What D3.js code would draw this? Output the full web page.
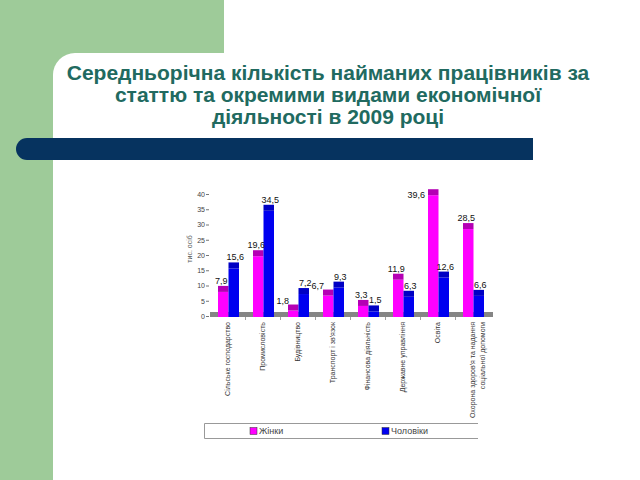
<!DOCTYPE html>
<html>
<head>
<meta charset="utf-8">
<script src="https://cdn.jsdelivr.net/npm/d3@7"></script>
<style>
  body { margin: 0; background: #fff; }
  svg { display: block; font-family: "Liberation Sans", Arial, sans-serif; }
</style>
</head>
<body>
<div class="slide"></div>
<script>
var categories = [
  ["Сільське господарство"],
  ["Промисловість"],
  ["Будівництво"],
  ["Транспорт і зв'язок"],
  ["Фінансова діяльність"],
  ["Державне управління"],
  ["Освіта"],
  ["Охорона здоров'я та надання", "соціальної допомоги"]
];
var series = ["Жінки", "Чоловіки"];
var women = [7.9, 19.6, 1.8, 6.7, 3.3, 11.9, 39.6, 28.5];
var men = [15.6, 34.5, 7.2, 9.3, 1.5, 6.3, 12.6, 6.6];
var yTicks = [0, 5, 10, 15, 20, 25, 30, 35, 40];

var faceColor = { "Жінки": "#ff00ff", "Чоловіки": "#0000f0" };
var capColor = { "Жінки": "#b400b4", "Чоловіки": "#0000c4" };

var W = 640, H = 480;
var svg = d3.select('.slide').append('svg').attr('width', W).attr('height', H);

// ========= slide background ============
svg.append('rect').attr('width', W).attr('height', H).attr('fill', '#fff');
svg.append('rect').attr('width', 224).attr('height', H).attr('fill', '#9ecb99');
svg.append('rect').attr('x', 53).attr('y', 53).attr('width', 700).attr('height', 600)
  .attr('rx', 22).attr('fill', '#fff');

// dark band under the title (rounded on the left end)
svg.append('path')
  .attr('d', 'M27,138 H533 V160 H27 A11,11 0 0 1 27,138 Z')
  .attr('fill', '#06335f');

var title = ["Середньорічна кількість найманих працівників за",
  "статтю та окремими видами економічної",
  "діяльності в 2009 році"];
svg.selectAll('.title').data(title).enter().append('text')
  .attr('class', 'title')
  .attr('x', 328)
  .attr('y', (d, i) => 80 + i * 22)
  .attr('text-anchor', 'middle')
  .attr('font-size', 21)
  .attr('font-weight', 'bold')
  .attr('fill', '#216a60')
  .text(d => d);

// ========= chart ============
var keys = categories.map(d => d.join(' '));
var x = d3.scaleBand().domain(keys).range([210, 490]);
var xi = d3.scaleBand().domain(series).range([8, 29]);
var y = d3.scaleLinear().domain([0, 40]).range([316, 194]);
var cap = 6;

// gray floor
svg.append('rect')
  .attr('x', 210).attr('y', y(0) - 4)
  .attr('width', 283).attr('height', 5)
  .attr('fill', '#858585');

// separators under the floor
svg.selectAll('.sep').data(keys.slice(1)).enter().append('line')
  .attr('x1', d => x(d) + 0.5).attr('x2', d => x(d) + 0.5)
  .attr('y1', y(0) + 1).attr('y2', y(0) + 4)
  .attr('stroke', '#777').attr('stroke-width', 0.7);

var rows = [];
keys.forEach(function(k, i) {
  rows.push({ cat: k, s: series[0], v: women[i], other: men[i] });
  rows.push({ cat: k, s: series[1], v: men[i], other: women[i] });
});

var bars = svg.selectAll('.bar').data(rows).enter().append('g').attr('class', 'bar');
bars.append('rect')
  .attr('x', d => x(d.cat) + xi(d.s))
  .attr('y', d => y(d.v))
  .attr('width', xi.bandwidth())
  .attr('height', d => y(0) + 1 - y(d.v))
  .attr('fill', d => faceColor[d.s]);
bars.append('rect')
  .attr('x', d => x(d.cat) + xi(d.s))
  .attr('y', d => y(d.v) - cap)
  .attr('width', xi.bandwidth())
  .attr('height', cap)
  .attr('fill', d => capColor[d.s]);

// value labels (drawn after all bars); moved beside the bar when there is no room above
function side(d) {
  if (y(d.v) - cap - 2 < 194) return 'top';
  if (d.s == series[0] && d.v < 7 && d.other > d.v) return 'left';
  return 'above';
}
var nudge = { "Жінки": -2, "Чоловіки": 1.5 };
svg.selectAll('.val').data(rows).enter().append('text')
  .attr('class', 'val')
  .attr('x', function(d) {
    var bx = x(d.cat) + xi(d.s);
    if (side(d) == 'top') return bx - 3;
    if (side(d) == 'left') return bx + 1;
    return bx + xi.bandwidth() / 2 + nudge[d.s];
  })
  .attr('y', function(d) {
    if (side(d) == 'top') return y(d.v) + 3;
    if (side(d) == 'left') return y(d.v) - cap - 1;
    return y(d.v) - cap - 2;
  })
  .attr('text-anchor', d => side(d) == 'above' ? 'middle' : 'end')
  .attr('font-size', 9)
  .attr('fill', '#111')
  .text(d => String(d.v).replace('.', ','));

// y axis
var yAxis = svg.append('g')
  .attr('transform', 'translate(209,0)')
  .call(d3.axisLeft(y).tickValues(yTicks).tickSize(3).tickPadding(1));
yAxis.select('.domain').remove();
yAxis.selectAll('line').attr('stroke', '#777');
yAxis.selectAll('text').attr('font-size', 7).attr('fill', '#444')
  .attr('font-family', '"Liberation Sans", Arial, sans-serif');

svg.append('text')
  .attr('transform', 'translate(192,' + y(22) + ') rotate(-90)')
  .attr('text-anchor', 'middle')
  .attr('font-size', 7).attr('fill', '#555')
  .text('тис. осіб');

// category labels, rotated
var xl = svg.selectAll('.xl').data(categories).enter().append('text')
  .attr('class', 'xl')
  .attr('transform', (d, i) => 'translate(' + (x(keys[i]) + x.bandwidth() / 2) + ',' + (y(0) + 6) + ') rotate(-90)')
  .attr('text-anchor', 'end')
  .attr('font-size', 7)
  .attr('fill', '#333');
xl.selectAll('tspan').data(d => d).enter().append('tspan')
  .attr('x', 0)
  .attr('dy', (t, j) => j == 0 ? 2.5 : 9.5)
  .text(t => t);

// legend
var lg = svg.append('g');
lg.append('path')
  .attr('d', 'M478,423.5 H204.5 V438.5 H478')
  .attr('fill', 'none').attr('stroke', '#999').attr('stroke-width', 1);
var lx = d3.scalePoint().domain(series).range([250, 382]);
var item = lg.selectAll('.item').data(series).enter().append('g')
  .attr('transform', d => 'translate(' + lx(d) + ',431)');
item.append('rect').attr('x', 0).attr('y', -3.5).attr('width', 7).attr('height', 7)
  .attr('fill', d => faceColor[d]).attr('stroke', '#333').attr('stroke-width', 0.5);
item.append('text').attr('x', 9).attr('y', 3).attr('font-size', 9).attr('fill', '#444')
  .text(d => d);
</script>
</body>
</html>
